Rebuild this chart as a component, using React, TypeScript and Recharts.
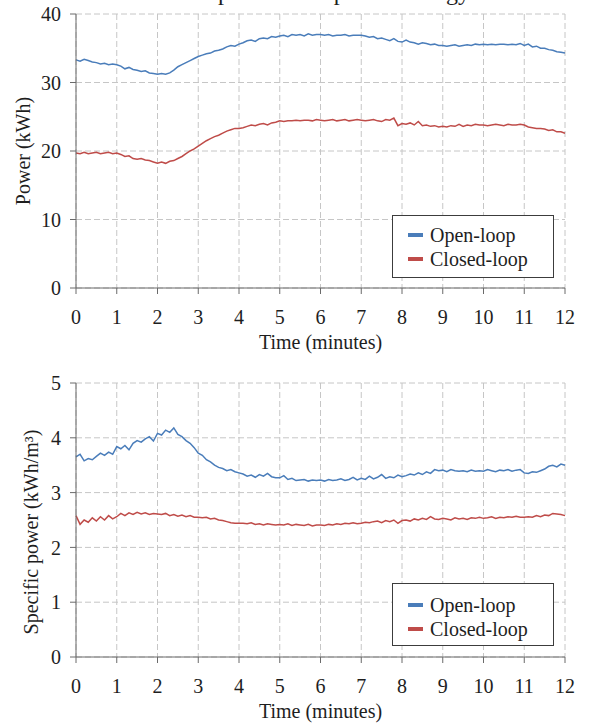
import { LineChart, Line, XAxis, YAxis, CartesianGrid, Legend } from "recharts"

// sample times (minutes), one reading every 0.1 min
const minutes = [
  0, 0.1, 0.2, 0.3, 0.4, 0.5, 0.6, 0.7, 0.8, 0.9,
  1, 1.1, 1.2, 1.3, 1.4, 1.5, 1.6, 1.7, 1.8, 1.9,
  2, 2.1, 2.2, 2.3, 2.4, 2.5, 2.6, 2.7, 2.8, 2.9,
  3, 3.1, 3.2, 3.3, 3.4, 3.5, 3.6, 3.7, 3.8, 3.9,
  4, 4.1, 4.2, 4.3, 4.4, 4.5, 4.6, 4.7, 4.8, 4.9,
  5, 5.1, 5.2, 5.3, 5.4, 5.5, 5.6, 5.7, 5.8, 5.9,
  6, 6.1, 6.2, 6.3, 6.4, 6.5, 6.6, 6.7, 6.8, 6.9,
  7, 7.1, 7.2, 7.3, 7.4, 7.5, 7.6, 7.7, 7.8, 7.9,
  8, 8.1, 8.2, 8.3, 8.4, 8.5, 8.6, 8.7, 8.8, 8.9,
  9, 9.1, 9.2, 9.3, 9.4, 9.5, 9.6, 9.7, 9.8, 9.9,
  10, 10.1, 10.2, 10.3, 10.4, 10.5, 10.6, 10.7, 10.8, 10.9,
  11, 11.1, 11.2, 11.3, 11.4, 11.5, 11.6, 11.7, 11.8, 11.9,
  12,
]

const openPower = [
  33.3, 33.1, 33.4, 33.2, 33.0, 32.9, 32.7, 32.8, 32.6, 32.7,
  32.6, 32.4, 32.0, 32.2, 31.9, 31.8, 31.6, 31.7, 31.4, 31.3,
  31.2, 31.3, 31.2, 31.4, 31.8, 32.3, 32.6, 32.9, 33.2, 33.5,
  33.8, 34.0, 34.2, 34.3, 34.6, 34.7, 34.9, 35.2, 35.4, 35.3,
  35.6, 35.8, 36.1, 36.2, 36.0, 36.4, 36.5, 36.4, 36.7, 36.6,
  36.8, 36.9, 36.7, 37.0, 36.9, 37.0, 36.8, 37.1, 36.9, 37.0,
  37.0, 36.9, 37.0, 36.8, 36.9, 36.9, 37.0, 36.8, 36.9, 36.9,
  36.9, 36.8, 36.6, 36.7, 36.4, 36.5, 36.3, 36.1, 36.4, 36.0,
  35.9, 36.2, 35.9, 35.8, 35.6, 35.8, 35.7, 35.5, 35.6, 35.4,
  35.4, 35.3, 35.4, 35.5, 35.3, 35.4, 35.5, 35.4, 35.6, 35.5,
  35.6, 35.5, 35.6, 35.5, 35.6, 35.6, 35.5, 35.6, 35.5, 35.7,
  35.4, 35.6, 35.2, 35.3, 35.0, 35.0, 34.8, 34.7, 34.5, 34.4,
  34.3,
]

const closedPower = [
  19.7, 19.6, 19.8, 19.6, 19.7, 19.8, 19.6, 19.7, 19.8, 19.6,
  19.7, 19.5, 19.2, 19.3, 18.9, 18.8, 18.9, 18.7, 18.6, 18.4,
  18.2, 18.4, 18.2, 18.5, 18.6, 18.9, 19.2, 19.6, 20.0, 20.3,
  20.7, 21.1, 21.5, 21.8, 22.1, 22.3, 22.6, 22.9, 23.1, 23.3,
  23.3, 23.4, 23.6, 23.8, 23.7, 23.9, 24.0, 23.8, 24.1, 24.2,
  24.4, 24.3, 24.4, 24.4, 24.5, 24.4, 24.5, 24.5, 24.4, 24.6,
  24.5, 24.4, 24.5, 24.6, 24.4, 24.5, 24.6, 24.4, 24.5, 24.6,
  24.5, 24.4, 24.5, 24.6, 24.4, 24.3, 24.6, 24.5, 24.8, 23.7,
  24.0, 23.9, 24.1, 23.8, 24.3, 23.7, 23.8, 23.6, 23.7, 23.5,
  23.6, 23.5, 23.7, 23.6, 23.9, 23.6, 23.8, 23.7, 23.9, 23.8,
  23.8, 23.7, 23.8, 23.9, 23.8, 23.7, 23.9, 23.8, 23.8, 23.9,
  23.8, 23.5, 23.4, 23.3, 23.3, 23.2, 23.0, 23.1, 22.8, 22.8,
  22.6,
]

const openSpecific = [
  3.65, 3.70, 3.58, 3.62, 3.60, 3.66, 3.72, 3.68, 3.74, 3.70,
  3.84, 3.80, 3.86, 3.78, 3.90, 3.95, 3.92, 3.98, 4.02, 3.94,
  4.08, 4.05, 4.14, 4.10, 4.18, 4.06, 4.02, 3.95, 3.90, 3.82,
  3.72, 3.68, 3.60, 3.56, 3.50, 3.46, 3.44, 3.40, 3.42, 3.38,
  3.36, 3.34, 3.30, 3.32, 3.28, 3.33, 3.30, 3.35, 3.29, 3.27,
  3.27, 3.31, 3.24, 3.26, 3.22, 3.23, 3.24, 3.21, 3.23, 3.22,
  3.23, 3.21, 3.24, 3.22, 3.23, 3.25, 3.22, 3.24, 3.28, 3.23,
  3.26, 3.24, 3.30, 3.25, 3.28, 3.33, 3.26, 3.29, 3.27, 3.32,
  3.29, 3.31, 3.34, 3.32, 3.36, 3.33, 3.38, 3.35, 3.42, 3.40,
  3.41, 3.38, 3.42, 3.40, 3.39, 3.40, 3.38, 3.41, 3.39, 3.40,
  3.39, 3.42, 3.40, 3.38, 3.41, 3.40, 3.42, 3.39, 3.41, 3.42,
  3.36, 3.35, 3.38, 3.37, 3.40, 3.43, 3.48, 3.50, 3.47, 3.52,
  3.50,
]

const closedSpecific = [
  2.58, 2.42, 2.50, 2.46, 2.54, 2.48, 2.56, 2.50, 2.58, 2.52,
  2.56, 2.62, 2.58, 2.63, 2.60, 2.64, 2.61, 2.63, 2.60, 2.62,
  2.61, 2.60, 2.62, 2.58, 2.60, 2.57, 2.59, 2.56, 2.58, 2.55,
  2.55, 2.54, 2.55, 2.52, 2.53, 2.50, 2.49, 2.47, 2.45, 2.44,
  2.44, 2.44, 2.43, 2.45, 2.42, 2.43, 2.41, 2.43, 2.42, 2.41,
  2.42, 2.41, 2.43, 2.40, 2.42, 2.41, 2.40, 2.42, 2.39, 2.41,
  2.41, 2.40, 2.42, 2.41, 2.43, 2.42, 2.44, 2.43, 2.45, 2.43,
  2.44, 2.46, 2.45, 2.47, 2.48, 2.45, 2.49, 2.47, 2.50, 2.44,
  2.49, 2.50, 2.48, 2.52, 2.50, 2.53, 2.51, 2.56, 2.52, 2.51,
  2.53, 2.52, 2.50, 2.54, 2.52, 2.53, 2.51, 2.54, 2.53, 2.55,
  2.53, 2.54, 2.56, 2.53, 2.55, 2.54, 2.56, 2.55, 2.57, 2.55,
  2.55, 2.56, 2.55, 2.58, 2.56, 2.59, 2.58, 2.62, 2.61, 2.60,
  2.58,
]

const minuteTicks = [0, 1, 2, 3, 4, 5, 6, 7, 8, 9, 10, 11, 12]
const powerTicks = [0, 10, 20, 30, 40]
const specificTicks = [0, 1, 2, 3, 4, 5]
const seriesNames = ["Open-loop", "Closed-loop"]

const BLUE = "#4a7dba"
const RED = "#bf4c49"
const AXIS = "#6a6a6a"
const GRID = "#c6c6c6"
const INK = "#1e1e1e"
const FONT = '"Liberation Serif", "Times New Roman", serif'

const powerData = minutes.map((t, i) => ({ t, open: openPower[i], closed: closedPower[i] }))
const specificData = minutes.map((t, i) => ({ t, open: openSpecific[i], closed: closedSpecific[i] }))

const tickStyle = { fontSize: 20, fill: INK, fontFamily: FONT }

function LoopLegend({ payload, padTop }: any) {
  // keep the series order of the original (open first), not alphabetical
  const items = [...(payload || [])].sort(
    (a: any, b: any) => seriesNames.indexOf(a.value) - seriesNames.indexOf(b.value)
  )
  return (
    <div
      style={{
        width: "100%",
        height: "100%",
        boxSizing: "border-box",
        border: "1px solid #3c3c3c",
        background: "#fff",
        paddingTop: padTop,
        paddingLeft: 15,
        fontFamily: FONT,
        fontSize: 20,
        color: INK,
      }}
    >
      {items.map((p: any) => (
        <div key={p.value} style={{ display: "flex", alignItems: "center", height: 24 }}>
          <span style={{ display: "inline-block", width: 15, height: 4, background: p.color, marginRight: 7 }} />
          <span>{p.value}</span>
        </div>
      ))}
    </div>
  )
}

function yTitle(text: string, cx: number, cy: number) {
  return () => (
    <text
      x={cx}
      y={cy}
      transform={`rotate(-90 ${cx} ${cy})`}
      textAnchor="middle"
      dominantBaseline="central"
      fontSize={20}
      fontFamily={FONT}
      fill={INK}
    >
      {text}
    </text>
  )
}

function LoopChart({ data, ticks, max, yLabel, labelX, labelY, marginTop, marginBottom, legendTop, legendPad }: any) {
  return (
    <LineChart
      width={590}
      height={362}
      data={data}
      margin={{ top: marginTop, right: 25, left: 16, bottom: marginBottom }}
    >
      <CartesianGrid stroke={GRID} strokeDasharray="6 3" />
      <XAxis
        dataKey="t"
        type="number"
        domain={[0, 12]}
        ticks={minuteTicks}
        height={61}
        stroke={AXIS}
        tickSize={6}
        tickMargin={16}
        tick={tickStyle}
        label={{ value: "Time (minutes)", position: "insideBottom", offset: 0, fontSize: 20, fill: INK, fontFamily: FONT }}
      />
      <YAxis
        type="number"
        domain={[0, max]}
        ticks={ticks}
        width={60}
        stroke={AXIS}
        tickSize={6}
        tickMargin={9}
        tick={tickStyle}
        label={{ content: yTitle(yLabel, labelX, labelY) }}
      />
      <Legend
        layout="vertical"
        align="center"
        verticalAlign="middle"
        wrapperStyle={{ left: 392, top: legendTop, width: 162, height: 63 }}
        content={(props: any) => <LoopLegend payload={props.payload} padTop={legendPad} />}
      />
      <Line
        type="linear"
        dataKey="open"
        name="Open-loop"
        stroke={BLUE}
        strokeWidth={1.5}
        dot={false}
        isAnimationActive={false}
      />
      <Line
        type="linear"
        dataKey="closed"
        name="Closed-loop"
        stroke={RED}
        strokeWidth={1.5}
        dot={false}
        isAnimationActive={false}
      />
    </LineChart>
  )
}

export default function App() {
  return (
    <div style={{ position: "absolute", left: 0, top: 0, width: 590, height: 724, background: "#fff", overflow: "hidden", fontFamily: FONT }}>
      {/* figure title, mostly above the visible area as in the original crop */}
      <div
        style={{
          position: "absolute",
          left: 0,
          width: 590,
          top: -22,
          fontSize: 24,
          lineHeight: "28px",
          textAlign: "center",
          color: INK,
        }}
      >
        Electrical power and specific energy
      </div>
      <div style={{ position: "absolute", left: 0, top: 0 }}>
        <LoopChart
          data={powerData}
          ticks={powerTicks}
          max={40}
          yLabel="Power (kWh)"
          labelX={23}
          labelY={151}
          marginTop={14}
          marginBottom={13}
          legendTop={215}
          legendPad={7}
        />
      </div>
      <div style={{ position: "absolute", left: 0, top: 362 }}>
        <LoopChart
          data={specificData}
          ticks={specificTicks}
          max={5}
          yLabel="Specific power (kWh/m³)"
          labelX={31}
          labelY={170}
          marginTop={21}
          marginBottom={6}
          legendTop={221}
          legendPad={9}
        />
      </div>
    </div>
  )
}
